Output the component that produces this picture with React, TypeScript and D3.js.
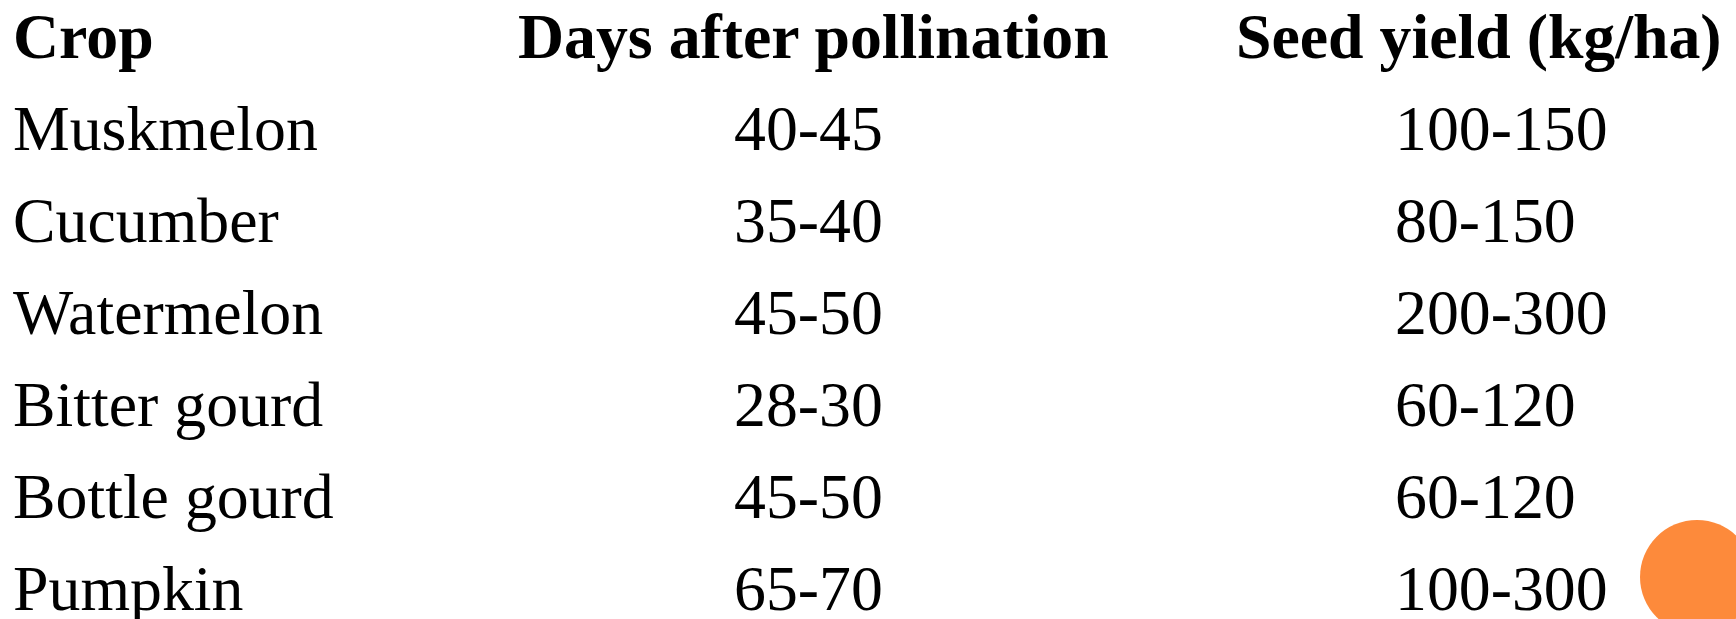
import React from "react";
import * as d3 from "d3";

// table content
const headers = ["Crop", "Days after pollination", "Seed yield (kg/ha)"];
const crops = ["Muskmelon", "Cucumber", "Watermelon", "Bitter gourd", "Bottle gourd", "Pumpkin"];
const days = ["40-45", "35-40", "45-50", "28-30", "45-50", "65-70"];
const yields = ["100-150", "80-150", "200-300", "60-120", "60-120", "100-300"];

const W = 1736;
const H = 619;
const FONT = "'Liberation Serif', 'Times New Roman', serif";
const SIZE = 63.8;

export default function App() {
  // rows: header + one per crop, positioned by baseline
  const rowKeys = ["header", ...crops];
  const y = d3.scalePoint<string>().domain(rowKeys).range([57.6, 610]);

  // header x and cell x per column (left aligned)
  const headX = [13, 518, 1236];
  const cellX = [13, 734, 1395];
  const columns = [crops, days, yields];

  return (
    <svg
      width={W}
      height={H}
      viewBox={`0 0 ${W} ${H}`}
      style={{ position: "absolute", left: 0, top: 0, background: "#fff" }}
    >
      <rect width={W} height={H} fill="#fff" />
      {headers.map((h, i) => (
        <text
          key={h}
          x={headX[i]}
          y={y("header")}
          fontFamily={FONT}
          fontSize={SIZE}
          fontWeight="bold"
          fill="#000"
        >
          {h}
        </text>
      ))}
      {columns.map((col, ci) =>
        col.map((v, ri) => (
          <text
            key={`${ci}-${ri}`}
            x={cellX[ci]}
            y={y(crops[ri])}
            fontFamily={FONT}
            fontSize={SIZE}
            fill="#000"
          >
            {v}
          </text>
        ))
      )}
      {/* slide decoration */}
      <circle cx={1697} cy={577} r={57} fill="#fd8a3b" />
    </svg>
  );
}
